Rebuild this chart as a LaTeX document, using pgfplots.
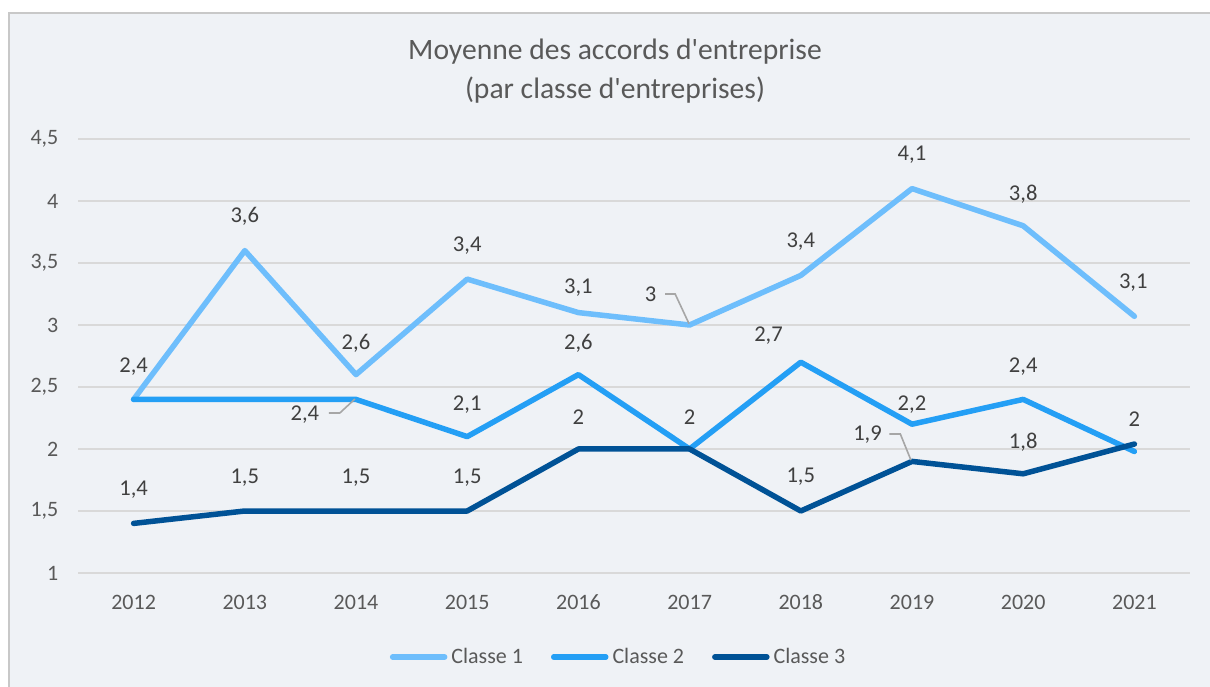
\documentclass[border=0pt]{standalone}
\usepackage{pgfplots}
\pgfplotsset{compat=1.18}
\usepackage{fontspec}
\setmainfont{Carlito}
\definecolor{bgc}{RGB}{239,242,246}
\definecolor{txt}{RGB}{89,89,89}
\definecolor{lbl}{RGB}{64,64,64}
\definecolor{gridc}{RGB}{217,217,217}
\definecolor{lead}{RGB}{166,166,166}
\definecolor{cA}{RGB}{110,190,252}
\definecolor{cB}{RGB}{36,159,245}
\definecolor{cC}{RGB}{0,82,150}
\begin{document}
\begin{tikzpicture}[x=1pt,y=1pt]
\useasboundingbox (0,0) rectangle (605,343);
\fill[white] (0,0) rectangle (605,343);
\filldraw[fill=bgc, draw={rgb,255:red,200;green,200;blue,200}, line width=0.7pt] (4.5,-3) rectangle (612,336.5);
\node[text=txt, font=\fontsize{14.8}{17}\selectfont] at (307.5,317) {Moyenne des accords d\textquotesingle entreprise};
\node[text=txt, font=\fontsize{14.8}{17}\selectfont] at (307.5,298) {(par classe d\textquotesingle entreprises)};
\begin{axis}[
  at={(39pt,56.5pt)}, anchor=south west, scale only axis,
  width=556pt, height=217pt,
  xmin=2011.5, xmax=2021.5, ymin=1, ymax=4.5,
  axis line style={draw=none}, major tick style={draw=none},
  ymajorgrids, grid style={gridc, line width=1pt},
  xtick={2012,2013,2014,2015,2016,2017,2018,2019,2020,2021},
  xticklabels={2012,2013,2014,2015,2016,2017,2018,2019,2020,2021},
  ytick={1,1.5,2,2.5,3,3.5,4,4.5},
  yticklabels={1,{1,5},2,{2,5},3,{3,5},4,{4,5}},
  tick label style={text=txt, font=\fontsize{11}{13}\selectfont},
  xticklabel style={yshift=-7.4pt},
  yticklabel style={xshift=-6.3pt},
  clip=false,
  legend columns=3,
  legend style={at={(0.487,-0.1935)}, anchor=center, draw=none, fill=none,
    text=txt, font=\fontsize{11}{13}\selectfont,
    /tikz/every even column/.append style={column sep=12pt},
    /tikz/every odd column/.append style={column sep=0pt}},
  legend image code/.code={\draw[#1, line width=2.75pt, line cap=round] (0pt,0pt) -- (26pt,0pt);}
]
\addplot[cA, line width=2.75pt, line join=round, line cap=round] coordinates {
(2012,2.4) (2013,3.6) (2014,2.6) (2015,3.37) (2016,3.1) (2017,3.0) (2018,3.4) (2019,4.1) (2020,3.8) (2021,3.07)};
\addlegendentry{Classe 1}
\addplot[cB, line width=2.75pt, line join=round, line cap=round] coordinates {
(2012,2.4) (2013,2.4) (2014,2.4) (2015,2.1) (2016,2.6) (2017,2.0) (2018,2.7) (2019,2.2) (2020,2.4) (2021,1.98)};
\addlegendentry{Classe 2}
\addplot[cC, line width=2.75pt, line join=round, line cap=round] coordinates {
(2012,1.4) (2013,1.5) (2014,1.5) (2015,1.5) (2016,2.0) (2017,2.0) (2018,1.5) (2019,1.9) (2020,1.8) (2021,2.04)};
\addlegendentry{Classe 3}
\tikzset{dl/.style={text=lbl, font=\fontsize{11.3}{13}\selectfont, inner sep=0pt}}
% Classe 1
\node[dl] at (axis cs:2012,2.661) {2,4};
\node[dl] at (axis cs:2013,3.879) {3,6};
\node[dl] at (axis cs:2014,2.855) {2,6};
\node[dl] at (axis cs:2015,3.637) {3,4};
\node[dl] at (axis cs:2016,3.298) {3,1};
\node[dl] at (axis cs:2016.65,3.25) {3};
\draw[lead, line width=0.8pt] (axis cs:2016.78,3.25) -- (axis cs:2016.87,3.25) -- (axis cs:2016.995,3.01);
\node[dl] at (axis cs:2018,3.669) {3,4};
\node[dl] at (axis cs:2019,4.371) {4,1};
\node[dl] at (axis cs:2020,4.056) {3,8};
\node[dl] at (axis cs:2020.99,3.339) {3,1};
% Classe 2
\node[dl] at (axis cs:2013.54,2.274) {2,4};
\draw[lead, line width=0.8pt] (axis cs:2013.755,2.29) -- (axis cs:2013.854,2.29) -- (axis cs:2013.99,2.403);
\node[dl] at (axis cs:2015,2.355) {2,1};
\node[dl] at (axis cs:2016,2.855) {2,6};
\node[dl] at (axis cs:2017,2.258) {2};
\node[dl] at (axis cs:2017.71,2.911) {2,7};
\node[dl] at (axis cs:2019,2.355) {2,2};
\node[dl] at (axis cs:2020,2.661) {2,4};
\node[dl] at (axis cs:2021,2.242) {2};
% Classe 3
\node[dl] at (axis cs:2012,1.669) {1,4};
\node[dl] at (axis cs:2013,1.766) {1,5};
\node[dl] at (axis cs:2014,1.766) {1,5};
\node[dl] at (axis cs:2015,1.766) {1,5};
\node[dl] at (axis cs:2016,2.258) {2};
\node[dl] at (axis cs:2018,1.78) {1,5};
\node[dl] at (axis cs:2018.6,2.113) {1,9};
\draw[lead, line width=0.8pt] (axis cs:2018.796,2.121) -- (axis cs:2018.895,2.121) -- (axis cs:2018.99,1.911);
\node[dl] at (axis cs:2020,2.056) {1,8};
\end{axis}
\end{tikzpicture}
\end{document}
